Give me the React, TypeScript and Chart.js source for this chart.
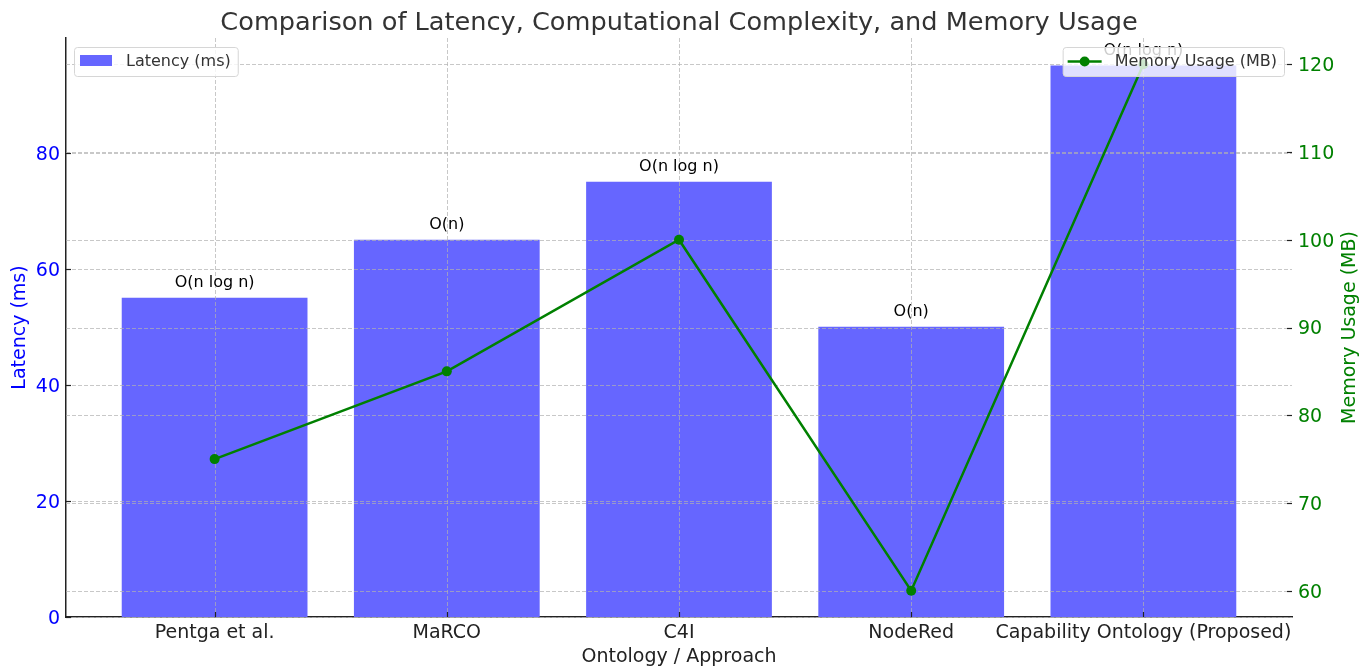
import React, { useEffect, useRef } from "react";
import { Chart, registerables } from "chart.js";

Chart.register(...registerables);

const categories = ["Pentga et al.", "MaRCO", "C4I", "NodeRed", "Capability Ontology (Proposed)"];
const latency = [55, 65, 75, 50, 95];
const memory = [75, 85, 100, 60, 120];
const complexity = ["O(n log n)", "O(n)", "O(n log n)", "O(n)", "O(n log n)"];
const latencyTicks = [0, 20, 40, 60, 80];
const memoryTicks = [60, 70, 80, 90, 100, 110, 120];
const categoryIndex = [0, 1, 2, 3, 4];

const FONT = '"DejaVu Sans", sans-serif';
const BAR_COLOR = "#6666ff";
const LINE_COLOR = "#008000";
const TICK_SIZE = 19;

const overlayPlugin = {
  id: "overlay",
  afterDatasetDraw(chart: any, args: any) {
    if (args.index !== 0) return;
    const { ctx, chartArea: a, scales } = chart;
    ctx.save();
    ctx.strokeStyle = "rgba(176,176,176,0.7)";
    ctx.lineWidth = 1;
    ctx.setLineDash([4, 2]);
    for (const i of categoryIndex) {
      const x = Math.round(scales.x.getPixelForValue(i)) + 0.5;
      ctx.beginPath();
      ctx.moveTo(x, a.top);
      ctx.lineTo(x, a.bottom);
      ctx.stroke();
    }
    for (const v of latencyTicks) {
      const y = Math.round(scales.y.getPixelForValue(v)) + 0.5;
      ctx.beginPath();
      ctx.moveTo(a.left, y);
      ctx.lineTo(a.right, y);
      ctx.stroke();
    }
    for (const v of memoryTicks) {
      const y = Math.round(scales.y1.getPixelForValue(v)) + 0.5;
      ctx.beginPath();
      ctx.moveTo(a.left, y);
      ctx.lineTo(a.right, y);
      ctx.stroke();
    }
    ctx.restore();
  },
  afterDatasetsDraw(chart: any) {
    const { ctx, chartArea: a, scales } = chart;
    ctx.save();
    ctx.strokeStyle = "#222";
    ctx.lineWidth = 1.2;
    ctx.setLineDash([]);
    for (const i of categoryIndex) {
      const x = Math.round(scales.x.getPixelForValue(i)) + 0.5;
      ctx.beginPath();
      ctx.moveTo(x, a.bottom);
      ctx.lineTo(x, a.bottom - 5);
      ctx.stroke();
    }
    for (const v of latencyTicks) {
      const y = Math.round(scales.y.getPixelForValue(v)) + 0.5;
      ctx.beginPath();
      ctx.moveTo(a.left, y);
      ctx.lineTo(a.left + 5, y);
      ctx.stroke();
    }
    for (const v of memoryTicks) {
      const y = Math.round(scales.y1.getPixelForValue(v)) + 0.5;
      ctx.beginPath();
      ctx.moveTo(a.right, y);
      ctx.lineTo(a.right - 5, y);
      ctx.stroke();
    }
    // tick labels
    ctx.font = `${TICK_SIZE}px ${FONT}`;
    ctx.textBaseline = "alphabetic";
    const half = (0.729 * TICK_SIZE) / 2;
    ctx.fillStyle = "#0000ff";
    ctx.textAlign = "right";
    for (const v of latencyTicks) {
      ctx.fillText(String(v), a.left - 6, scales.y.getPixelForValue(v) + half);
    }
    ctx.fillStyle = LINE_COLOR;
    ctx.textAlign = "left";
    for (const v of memoryTicks) {
      ctx.fillText(String(v), a.right + 6, scales.y1.getPixelForValue(v) + half);
    }
    ctx.fillStyle = "#222";
    ctx.textAlign = "center";
    for (const i of categoryIndex) {
      ctx.fillText(categories[i], scales.x.getPixelForValue(i), a.bottom + 20.5);
    }
    // annotations
    ctx.fillStyle = "#000";
    ctx.font = `16px ${FONT}`;
    ctx.textAlign = "center";
    ctx.textBaseline = "alphabetic";
    categoryIndex.forEach((i) => {
      const x = scales.x.getPixelForValue(i);
      const y = scales.y.getPixelForValue(latency[i] + 2) + 1;
      ctx.fillText(complexity[i], x, y);
    });
    ctx.restore();
  },
  afterDraw(chart: any) {
    const { ctx, chartArea: a } = chart;
    ctx.save();
    ctx.fillStyle = "#333";
    ctx.font = `25.6px ${FONT}`;
    ctx.textAlign = "center";
    ctx.textBaseline = "alphabetic";
    ctx.fillText("Comparison of Latency, Computational Complexity, and Memory Usage", (a.left + a.right) / 2, 30);
    ctx.fillStyle = "#222";
    ctx.font = `19px ${FONT}`;
    ctx.textBaseline = "middle";
    ctx.fillText("Ontology / Approach", (a.left + a.right) / 2, 657);
    const midY = (a.top + a.bottom) / 2;
    ctx.save();
    ctx.translate(20, midY);
    ctx.rotate(-Math.PI / 2);
    ctx.fillStyle = "#0000ff";
    ctx.fillText("Latency (ms)", 0, 0);
    ctx.restore();
    ctx.save();
    ctx.translate(1350, midY);
    ctx.rotate(-Math.PI / 2);
    ctx.fillStyle = LINE_COLOR;
    ctx.fillText("Memory Usage (MB)", 0, 0);
    ctx.restore();

    ctx.font = `16px ${FONT}`;
    const drawBox = (x: number, y: number, w: number, h: number) => {
      const r = 3;
      ctx.beginPath();
      ctx.moveTo(x + r, y);
      ctx.lineTo(x + w - r, y);
      ctx.quadraticCurveTo(x + w, y, x + w, y + r);
      ctx.lineTo(x + w, y + h - r);
      ctx.quadraticCurveTo(x + w, y + h, x + w - r, y + h);
      ctx.lineTo(x + r, y + h);
      ctx.quadraticCurveTo(x, y + h, x, y + h - r);
      ctx.lineTo(x, y + r);
      ctx.quadraticCurveTo(x, y, x + r, y);
      ctx.closePath();
      ctx.fillStyle = "rgba(255,255,255,0.8)";
      ctx.fill();
      ctx.strokeStyle = "#d6d6d6";
      ctx.lineWidth = 1;
      ctx.stroke();
    };
    const legTop = a.top + 9;
    const legH = 29;
    const t1 = "Latency (ms)";
    const w1 = 6 + 32 + 14 + ctx.measureText(t1).width + 7;
    const x1 = a.left + 8;
    drawBox(x1 + 0.5, legTop + 0.5, w1, legH);
    ctx.fillStyle = BAR_COLOR;
    ctx.fillRect(x1 + 6, legTop + 8, 32, 11);
    ctx.fillStyle = "#333";
    ctx.textAlign = "left";
    ctx.textBaseline = "middle";
    ctx.fillText(t1, x1 + 52, legTop + legH / 2 + 0.5);
    const t2 = "Memory Usage (MB)";
    const w2 = 5 + 34 + 13 + ctx.measureText(t2).width + 7;
    const x2 = a.right - 8 - w2;
    drawBox(x2 + 0.5, legTop + 0.5, w2, legH);
    ctx.strokeStyle = LINE_COLOR;
    ctx.lineWidth = 2.5;
    ctx.beginPath();
    ctx.moveTo(x2 + 5, legTop + legH / 2);
    ctx.lineTo(x2 + 39, legTop + legH / 2);
    ctx.stroke();
    ctx.fillStyle = LINE_COLOR;
    ctx.beginPath();
    ctx.arc(x2 + 22, legTop + legH / 2, 5, 0, Math.PI * 2);
    ctx.fill();
    ctx.fillStyle = "#333";
    ctx.fillText(t2, x2 + 52, legTop + legH / 2 + 0.5);
    ctx.restore();
  },
};

export default function App() {
  const ref = useRef<HTMLCanvasElement | null>(null);
  useEffect(() => {
    document.body.style.margin = "0";
    const canvas = ref.current;
    if (!canvas) return;
    const chart = new Chart(canvas, {
      type: "bar",
      data: {
        datasets: [
          {
            type: "bar",
            label: "Latency (ms)",
            data: categoryIndex.map((i) => ({ x: i, y: latency[i] })),
            backgroundColor: BAR_COLOR,
            borderWidth: 0,
            categoryPercentage: 1,
            barPercentage: 0.8,
            yAxisID: "y",
            order: 1,
          },
          {
            type: "line",
            label: "Memory Usage (MB)",
            data: categoryIndex.map((i) => ({ x: i, y: memory[i] })),
            borderColor: LINE_COLOR,
            backgroundColor: LINE_COLOR,
            borderWidth: 2.5,
            pointRadius: 5,
            pointBorderWidth: 0,
            pointBackgroundColor: LINE_COLOR,
            tension: 0,
            yAxisID: "y1",
            order: 0,
          },
        ],
      } as any,
      options: {
        responsive: false,
        maintainAspectRatio: false,
        animation: false,
        devicePixelRatio: 1,
        layout: { padding: { top: 38, left: 0, right: 0, bottom: 0 } },
        plugins: {
          legend: { display: false },
          title: { display: false },
          tooltip: { enabled: false },
        },
        scales: {
          x: {
            type: "linear",
            offset: false,
            bounds: "data",
            min: -0.64,
            max: 4.64,
            afterBuildTicks: (s: any) => {
              s.ticks = categoryIndex.map((v) => ({ value: v }));
            },
            afterFit: (s: any) => {
              s.height = 53;
            },
            grid: { display: false, drawTicks: false, offset: false },
            border: { display: true, color: "#222", width: 1.5 },
            ticks: { display: false },
          },
          y: {
            type: "linear",
            position: "left",
            min: 0,
            max: 99.75,
            afterBuildTicks: (s: any) => {
              s.ticks = latencyTicks.map((v) => ({ value: v }));
            },
            afterFit: (s: any) => {
              s.width = 66;
            },
            grid: { display: false, drawTicks: false },
            border: { display: true, color: "#222", width: 1.5 },
            ticks: { display: false },
          },
          y1: {
            type: "linear",
            position: "right",
            min: 57,
            max: 123,
            afterBuildTicks: (s: any) => {
              s.ticks = memoryTicks.map((v) => ({ value: v }));
            },
            afterFit: (s: any) => {
              s.width = 79;
            },
            grid: { display: false, drawTicks: false },
            border: { display: false },
            ticks: { display: false },
          },
        },
      } as any,
      plugins: [overlayPlugin],
    });
    return () => chart.destroy();
  }, []);
  return (
    <div style={{ position: "absolute", left: 0, top: 0, width: 1371, height: 670 }}>
      <canvas ref={ref} width={1371} height={670} style={{ display: "block" }} />
    </div>
  );
}
